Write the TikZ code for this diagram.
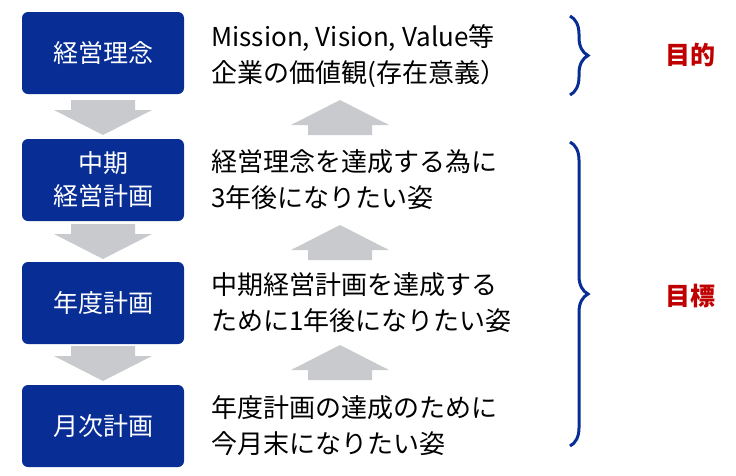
\documentclass[tikz,border=0pt]{standalone}
\usepackage{fontspec}
\setmainfont{Noto Sans CJK JP}
\usetikzlibrary{decorations.pathreplacing}
\definecolor{boxblue}{RGB}{8,46,150}
\definecolor{goalred}{RGB}{192,0,0}
\definecolor{arrowgray}{RGB}{200,202,205}
\begin{document}
\begin{tikzpicture}[x=1pt, y=-1pt,
  planbox/.style={fill=boxblue, rounded corners=6pt, minimum width=162pt, minimum height=82pt,
    text=white, align=center, font=\fontsize{25}{33}\selectfont},
  desc/.style={anchor=west, align=left, font=\fontsize{26}{36}\selectfont},
  bluebrace/.style={draw=boxblue, line width=3pt, decorate, decoration={brace, amplitude=18pt}},
  goal/.style={text=goalred, font=\fontsize{25}{28}\selectfont\bfseries}]

\useasboundingbox (0,0) rectangle (736,475);

\node[planbox] (rinen) at (103,53) {経営理念};
\node[planbox] (chuki) at (103,180) {中期\\経営計画};
\node[planbox] (nendo) at (103,303) {年度計画};
\node[planbox] (getsuji) at (103,426) {月次計画};

% down arrows
\foreach \y in {100,224,346}
  \fill[arrowgray] (71,\y) -- (135,\y) -- (135,\y+10) -- (152,\y+10) -- (103,\y+35)
    -- (54,\y+10) -- (71,\y+10) -- cycle;
% up arrows
\foreach \y in {135,260,380}
  \fill[arrowgray] (308,\y) -- (372,\y) -- (372,\y-10) -- (389,\y-10) -- (340,\y-35)
    -- (291,\y-10) -- (308,\y-10) -- cycle;

\node[desc] (t1) at (208,56) {Mission, Vision, Value等\\企業の価値観(存在意義）};
\node[desc] (t2) at (208,180) {経営理念を達成する為に\\3年後になりたい姿};
\node[desc] (t3) at (208,303) {中期経営計画を達成する\\ために1年後になりたい姿};
\node[desc] (t4) at (208,426) {年度計画の達成のために\\今月末になりたい姿};

\coordinate (b1top) at (570,16);
\coordinate (b1bot) at (570,95);
\coordinate (b2top) at (570,142);
\coordinate (b2bot) at (570,446);
\draw[bluebrace] (b1top) -- (b1bot);
\draw[bluebrace] (b2top) -- (b2bot);

\node[goal] (mokuteki) at (690,55) {目的};
\node[goal] (mokuhyo) at (690,296) {目標};
\end{tikzpicture}
\end{document}
